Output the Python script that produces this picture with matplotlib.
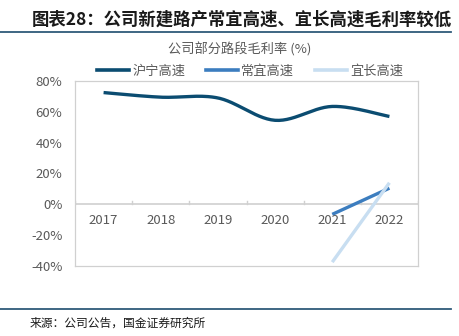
import numpy as np
import matplotlib.pyplot as plt
from matplotlib.lines import Line2D

plt.rcParams['font.family'] = ['Noto Sans CJK SC', 'DejaVu Sans']

# data
years = ['2017', '2018', '2019', '2020', '2021', '2022']
huning = [72.5, 69.5, 69.0, 54.5, 63.5, 57.0]
changyi = [None, None, None, None, -6.5, 10.5]
yichang = [None, None, None, None, -37.5, 14.0]
names = ['沪宁高速', '常宜高速', '宜长高速']
colors = ['#0B4C71', '#3C7DBF', '#C8DEF1']
yticks = [-40, -20, 0, 20, 40, 60, 80]


def smooth(xs, ys, n=30):
    # bezier smoothing like a spreadsheet "smoothed line"
    xs = np.asarray(xs, float)
    ys = np.asarray(ys, float)
    if len(xs) < 3:
        return xs, ys
    px, py = [], []
    for i in range(len(xs) - 1):
        x0, y0 = (xs[i - 1], ys[i - 1]) if i > 0 else (xs[i], ys[i])
        x3, y3 = (xs[i + 2], ys[i + 2]) if i + 2 < len(xs) else (xs[i + 1], ys[i + 1])
        c1 = (xs[i] + (xs[i + 1] - x0) / 6, ys[i] + (ys[i + 1] - y0) / 6)
        c2 = (xs[i + 1] - (x3 - xs[i]) / 6, ys[i + 1] - (y3 - ys[i]) / 6)
        t = np.linspace(0, 1, n)
        bx = (1 - t) ** 3 * xs[i] + 3 * (1 - t) ** 2 * t * c1[0] + 3 * (1 - t) * t ** 2 * c2[0] + t ** 3 * xs[i + 1]
        by = (1 - t) ** 3 * ys[i] + 3 * (1 - t) ** 2 * t * c1[1] + 3 * (1 - t) * t ** 2 * c2[1] + t ** 3 * ys[i + 1]
        px.extend(bx)
        py.extend(by)
    return np.array(px), np.array(py)


fig = plt.figure(figsize=(4.59, 3.36), dpi=100)
ax = fig.add_axes([75 / 459, 1 - 266 / 336, 343 / 459, 185 / 336])

for vals, c in zip([huning, changyi, yichang], colors):
    xs = [i for i, v in enumerate(vals) if v is not None]
    ys = [v for v in vals if v is not None]
    sx, sy = smooth(xs, ys)
    ax.plot(sx, sy, color=c, lw=2.4, solid_capstyle='butt', zorder=3)

ax.set_xlim(-0.5, len(years) - 0.5)
ax.set_ylim(-40, 80)
ax.set_yticks(yticks)
ax.set_yticklabels([f'{v}%' for v in yticks], color='#595959', fontsize=9.5)
ax.tick_params(axis='y', length=0, pad=9)
ax.set_xticks([])
for s in ax.spines.values():
    s.set_color('#D0D0D0')
    s.set_linewidth(0.9)

ax.axhline(0, color='#D0D0D0', lw=1.2, zorder=1)
for b in np.arange(-0.5, len(years), 1):
    ax.plot([b, b], [0, 2.2], color='#D0D0D0', lw=1, zorder=1)
for i, y in enumerate(years):
    ax.annotate(y, (i, 0), xytext=(0, -7), textcoords='offset points',
                ha='center', va='top', color='#595959', fontsize=9.5)

# legend and chart title
handles = [Line2D([], [], color=c, lw=2.6) for c in colors]
fig.legend(handles, names, loc='center', bbox_to_anchor=(0.545, 1 - 71 / 336), ncol=3,
           frameon=False, handlelength=2.4, handletextpad=0.25, columnspacing=1.6,
           fontsize=9.5, labelcolor='#595959')
fig.text(0.523, 1 - 49 / 336, '公司部分路段毛利率 (%)', ha='center', va='center',
         color='#595959', fontsize=9.5)

# header / footer
fig.text(32 / 459, 1 - 20 / 336, '图表28：公司新建路产常宜高速、宜长高速毛利率较低',
         ha='left', va='center', fontsize=12.5, fontweight='bold', color='#1a1a1a')
fig.add_artist(Line2D([0, 451 / 459], [1 - 32 / 336] * 2, color='#2F5B7A', lw=1.3))
fig.add_artist(Line2D([0, 451 / 459], [1 - 309 / 336] * 2, color='#2F5B7A', lw=1.3))
fig.text(30 / 459, 1 - 323 / 336, '来源：公司公告，国金证券研究所', ha='left', va='center',
         fontsize=8.5, color='#1a1a1a')

fig.savefig('out.png', dpi=100)
